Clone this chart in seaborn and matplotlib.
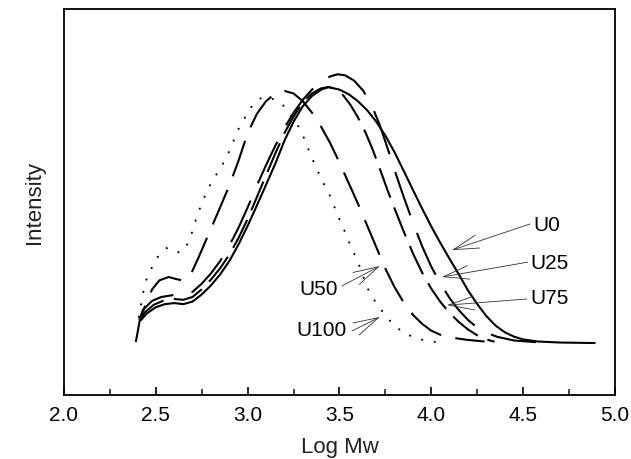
import matplotlib
matplotlib.use("Agg")
import matplotlib.pyplot as plt
import seaborn as sns
import numpy as np
import pandas as pd

# ---- data ----
u0_x = [2.42, 2.45, 2.50, 2.55, 2.60, 2.65, 2.70, 2.75, 2.80, 2.85, 2.90, 2.95, 3.00, 3.05,
        3.10, 3.15, 3.20, 3.25, 3.30, 3.35, 3.40, 3.44, 3.50, 3.55, 3.60, 3.65, 3.70, 3.75,
        3.80, 3.85, 3.90, 3.95, 4.00, 4.05, 4.10, 4.15, 4.20, 4.25, 4.30, 4.35, 4.40, 4.45,
        4.50, 4.58, 4.70, 4.89]
u0_y = [0.09, 0.115, 0.14, 0.152, 0.156, 0.152, 0.162, 0.19, 0.225, 0.268, 0.32, 0.385, 0.458,
        0.537, 0.618, 0.70, 0.79, 0.865, 0.925, 0.965, 0.99, 1.0, 0.99, 0.972, 0.945, 0.91,
        0.865, 0.81, 0.745, 0.672, 0.598, 0.525, 0.455, 0.39, 0.328, 0.268, 0.205, 0.152,
        0.105, 0.068, 0.042, 0.025, 0.014, 0.006, 0.002, 0.0]

u25_x = [2.41, 2.43, 2.48, 2.53, 2.60, 2.65, 2.70, 2.75, 2.80, 2.85, 2.90, 2.95, 3.00, 3.05,
         3.10, 3.15, 3.20, 3.25, 3.30, 3.35, 3.40, 3.45, 3.49, 3.53, 3.58, 3.63, 3.68, 3.72,
         3.76, 3.80, 3.85, 3.90, 3.95, 4.00, 4.05, 4.10, 4.15, 4.20, 4.25, 4.30, 4.36, 4.45,
         4.577]
u25_y = [0.09, 0.13, 0.165, 0.18, 0.188, 0.186, 0.20, 0.232, 0.272, 0.32, 0.38, 0.45, 0.53,
         0.615, 0.695, 0.77, 0.84, 0.90, 0.95, 0.99, 1.02, 1.042, 1.05, 1.046, 1.025, 0.985,
         0.92, 0.85, 0.765, 0.675, 0.57, 0.47, 0.378, 0.298, 0.232, 0.175, 0.128, 0.09, 0.06,
         0.04, 0.024, 0.01, 0.003]

u75_x = [2.415, 2.44, 2.49, 2.54, 2.60, 2.65, 2.70, 2.75, 2.80, 2.85, 2.90, 2.95, 3.00, 3.05,
         3.10, 3.15, 3.20, 3.25, 3.30, 3.35, 3.40, 3.44, 3.48, 3.52, 3.56, 3.60, 3.64, 3.68,
         3.72, 3.76, 3.80, 3.85, 3.90, 3.95, 4.00, 4.05, 4.10, 4.15, 4.20, 4.25, 4.30, 4.344]
u75_y = [0.09, 0.12, 0.15, 0.165, 0.172, 0.169, 0.18, 0.21, 0.248, 0.292, 0.345, 0.41, 0.485,
         0.57, 0.655, 0.74, 0.82, 0.885, 0.94, 0.975, 0.995, 1.0, 0.993, 0.968, 0.93, 0.882,
         0.825, 0.757, 0.68, 0.60, 0.525, 0.435, 0.35, 0.275, 0.212, 0.16, 0.117, 0.082,
         0.053, 0.03, 0.014, 0.005]

u50_x = [2.391, 2.412, 2.445, 2.48, 2.52, 2.57, 2.61, 2.65, 2.69, 2.73, 2.79, 2.85, 2.90,
         2.95, 3.00, 3.05, 3.10, 3.15, 3.20, 3.25, 3.30, 3.35, 3.40, 3.45, 3.50, 3.55, 3.60,
         3.65, 3.70, 3.75, 3.80, 3.85, 3.90, 3.95, 4.00, 4.05, 4.12, 4.20, 4.29]
u50_y = [0.004, 0.086, 0.152, 0.21, 0.245, 0.258, 0.25, 0.244, 0.268, 0.33, 0.43, 0.53, 0.615,
         0.712, 0.82, 0.895, 0.945, 0.975, 0.985, 0.975, 0.945, 0.90, 0.845, 0.78, 0.705,
         0.625, 0.545, 0.46, 0.375, 0.29, 0.218, 0.158, 0.11, 0.075, 0.048, 0.032, 0.02,
         0.012, 0.006]

u100_x = [2.407, 2.434, 2.450, 2.472, 2.494, 2.526, 2.559, 2.597, 2.640, 2.667, 2.689, 2.722,
          2.760, 2.803, 2.857, 2.906, 2.939, 2.966, 2.993, 3.020, 3.058, 3.096, 3.139, 3.183,
          3.221, 3.264, 3.302, 3.346, 3.394, 3.449, 3.492, 3.530, 3.563, 3.601, 3.628, 3.655,
          3.682, 3.720, 3.753, 3.801, 3.856, 3.926, 4.024]
u100_y = [0.102, 0.207, 0.250, 0.285, 0.320, 0.352, 0.371, 0.355, 0.355, 0.379, 0.414, 0.492,
          0.563, 0.629, 0.688, 0.758, 0.820, 0.859, 0.889, 0.922, 0.953, 0.961, 0.953, 0.937,
          0.906, 0.863, 0.809, 0.730, 0.652, 0.574, 0.496, 0.434, 0.375, 0.316, 0.262, 0.211,
          0.175, 0.137, 0.105, 0.066, 0.038, 0.016, 0.004]

labels = ["U0", "U25", "U75", "U50", "U100"]
# label text anchor, line start, arrow tip (data coords)
label_text = {"U0": (4.553, 0.465), "U25": (4.537, 0.316), "U75": (4.537, 0.176),
              "U50": (3.492, 0.215), "U100": (3.541, 0.051)}
label_tail = {"U0": (4.537, 0.465), "U25": (4.525, 0.316), "U75": (4.520, 0.172),
              "U50": (3.513, 0.223), "U100": (3.568, 0.047)}
label_tip = {"U0": (4.112, 0.363), "U25": (4.058, 0.258), "U75": (4.085, 0.148),
             "U50": (3.720, 0.301), "U100": (3.720, 0.102)}
label_ha = {"U0": "left", "U25": "left", "U75": "left", "U50": "right", "U100": "right"}

xticks = [2.0, 2.5, 3.0, 3.5, 4.0, 4.5, 5.0]
xtick_labels = ["2.0", "2.5", "3.0", "3.5", "4.0", "4.5", "5.0"]

# ---- styling ----
sns.set_theme(style="white")
plt.rcParams["font.family"] = ["Liberation Sans", "DejaVu Sans"]

fig = plt.figure(figsize=(6.31, 4.60), dpi=100)
ax = fig.add_axes([64 / 631, 1 - 396 / 460, (615 - 64) / 631, (396 - 10) / 460])

series = [
    ("U0", u0_x, u0_y, dict(linestyle="-", lw=1.5)),
    ("U25", u25_x, u25_y, dict(linestyle=(0, (22, 9)), lw=1.5)),
    ("U75", u75_x, u75_y, dict(linestyle=(0, (15, 5)), lw=1.5)),
    ("U50", u50_x, u50_y, dict(linestyle=(0, (18, 7)), lw=1.5)),
    ("U100", u100_x, u100_y, dict(linestyle=(0, (0.1, 6.0)), lw=1.5, dash_capstyle="round")),
]
for name, xs, ys, kw in series:
    df = pd.DataFrame({"Log Mw": xs, "Intensity": ys})
    sns.lineplot(data=df, x="Log Mw", y="Intensity", ax=ax, color="black",
                 estimator=None, sort=False, **kw)

for name in labels:
    ax.annotate("", xy=label_tip[name], xytext=label_tail[name],
                arrowprops=dict(arrowstyle="->,head_length=1.3,head_width=0.35",
                                color="#333333", lw=0.6, shrinkA=0, shrinkB=0,
                                mutation_scale=14))
    ax.text(label_text[name][0], label_text[name][1], name, ha=label_ha[name],
            va="center", fontsize=15, color="black")

ax.set_xlim(2.0, 5.0)
ax.set_ylim(-0.203, 1.305)
ax.set_xticks(xticks)
ax.set_xticklabels(xtick_labels, fontsize=15)
ax.set_xticks(np.arange(2.25, 5.0, 0.5), minor=True)
ax.set_yticks([])
ax.tick_params(axis="x", which="major", direction="in", length=6, width=1.2,
               bottom=True, top=False, colors="black", pad=7)
ax.tick_params(axis="x", which="minor", direction="in", length=4, width=1.2,
               bottom=True, top=False)
ax.set_xlabel("Log Mw", fontsize=16, labelpad=9, color="#222222")
ax.set_ylabel("Intensity", fontsize=16, labelpad=14, color="#222222")
for s in ax.spines.values():
    s.set_color("black")
    s.set_linewidth(1.3)
ax.set_facecolor("white")
ax.grid(False)

fig.savefig("out.png", dpi=100, facecolor="white")
